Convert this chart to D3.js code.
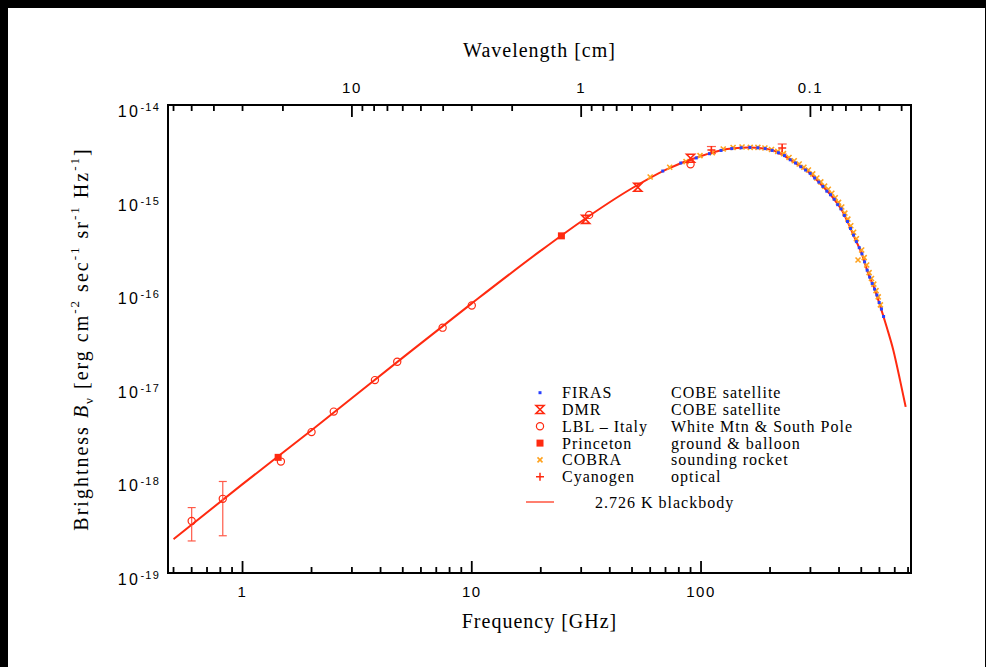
<!DOCTYPE html>
<html>
<head>
<meta charset="utf-8">
<script src="https://cdn.jsdelivr.net/npm/d3@7"></script>
<style>
  body { margin: 0; background: #000; }
  svg { display: block; }
  .serif { font-family: "Liberation Serif", "Times New Roman", serif; fill: #000; }
  .sans { font-family: "Liberation Sans", Arial, sans-serif; fill: #000; }
</style>
</head>
<body>
<svg id="chart" width="986" height="667"></svg>
<script>
// blackbody curve (GHz, erg cm^-2 s^-1 sr^-1 Hz^-1)
var curveFreq = [0.5, 1, 2, 5, 10, 20, 30, 50, 70, 100, 130, 160, 190, 220, 252, 299, 341, 378, 411, 439, 469, 502, 536, 574, 603, 645, 690, 738, 781];
var curveB = [2.3e-19, 8.9e-19, 3.35e-18, 2.0e-17, 7.6e-17, 2.78e-16, 5.7e-16, 1.29e-15, 2.03e-15, 2.85e-15, 3.38e-15, 3.52e-15, 3.42e-15, 3.07e-15, 2.48e-15, 1.86e-15, 1.34e-15, 1.007e-15, 7.55e-16, 5.43e-16, 3.76e-16, 2.60e-16, 1.59e-16, 1.054e-16, 7.28e-17, 4.27e-17, 2.40e-17, 1.15e-17, 5.96e-18];

var firasFreq = [68.1, 81.6, 95.3, 108.8, 122.3, 136.1, 149.6, 163.4, 176.9, 190.4, 204.2, 217.6, 231.1, 244.9, 258.4, 272.2, 285.7, 299.2, 313.0, 326.5, 340.0, 353.8, 367.2, 381.0, 394.5, 408.0, 421.8, 435.3, 448.8, 462.6, 476.1, 489.9, 503.3, 516.8, 530.6, 544.1, 557.9, 571.4, 584.9, 598.7, 612.2, 625.7];
var firasB = [1.97e-15, 2.40e-15, 2.72e-15, 3.02e-15, 3.27e-15, 3.42e-15, 3.49e-15, 3.52e-15, 3.49e-15, 3.42e-15, 3.27e-15, 3.09e-15, 2.88e-15, 2.60e-15, 2.40e-15, 2.19e-15, 2.02e-15, 1.86e-15, 1.66e-15, 1.50e-15, 1.35e-15, 1.20e-15, 1.10e-15, 9.84e-16, 8.61e-16, 7.76e-16, 6.61e-16, 5.69e-16, 4.79e-16, 4.07e-16, 3.47e-16, 2.99e-16, 2.57e-16, 2.11e-16, 1.72e-16, 1.45e-16, 1.24e-16, 1.08e-16, 9.33e-17, 7.76e-17, 6.61e-17, 5.50e-17];

var cobraFreq = [60, 73, 86, 99, 112, 125, 138, 151, 164, 177, 190, 203, 216, 229, 242, 255, 268, 281, 294, 307, 320, 333, 346, 359, 372, 385, 398, 411, 424, 437, 450, 463, 476, 484, 502, 515, 528, 541, 554, 567, 580, 593, 606];
var cobraB = [1.70e-15, 2.16e-15, 2.48e-15, 2.88e-15, 3.09e-15, 3.39e-15, 3.51e-15, 3.56e-15, 3.53e-15, 3.53e-15, 3.47e-15, 3.35e-15, 3.20e-15, 3.02e-15, 2.75e-15, 2.54e-15, 2.34e-15, 2.16e-15, 2.02e-15, 1.84e-15, 1.66e-15, 1.51e-15, 1.36e-15, 1.26e-15, 1.14e-15, 1.02e-15, 9.12e-16, 8.13e-16, 7.0e-16, 6.03e-16, 5.13e-16, 4.37e-16, 3.72e-16, 2.21e-16, 2.82e-16, 2.34e-16, 1.95e-16, 1.62e-16, 1.40e-16, 1.22e-16, 1.04e-16, 8.91e-17, 7.33e-17];

var dmrFreq = [31.4, 53, 90];
var dmrB = [6.0e-16, 1.32e-15, 2.7e-15];

var lblFreq = [0.6, 0.82, 1.47, 2.0, 2.5, 3.78, 4.73, 7.46, 10.0, 32.5, 90];
var lblB = [3.6e-19, 6.2e-19, 1.55e-18, 3.2e-18, 5.3e-18, 1.15e-17, 1.81e-17, 4.18e-17, 7.2e-17, 6.7e-16, 2.33e-15];
var lblLo = [2.2e-19, 2.5e-19, null, null, null, null, null, null, null, null, null];
var lblHi = [5.0e-19, 9.5e-19, null, null, null, null, null, null, null, null, null];

var princetonFreq = [1.43, 24.6];
var princetonB = [1.72e-18, 4.0e-16];

var cyanFreq = [111, 226];
var cyanB = [3.31e-15, 3.47e-15];
var cyanLo = [3.03e-15, 2.99e-15];
var cyanHi = [3.6e-15, 3.83e-15];

var freqMajor = [1, 10, 100];
var waveMajor = [10, 1, 0.1];
var waveLabels = ["10", "1", "0.1"];
var bMajor = [1e-14, 1e-15, 1e-16, 1e-17, 1e-18, 1e-19];
var bExp = ["-14", "-15", "-16", "-17", "-18", "-19"];

var legendNames = ["FIRAS", "DMR", "LBL \u2013 Italy", "Princeton", "COBRA", "Cyanogen"];
var legendNotes = ["COBE satellite", "COBE satellite", "White Mtn & South Pole", "ground & balloon", "sounding rocket", "optical"];
var legendKeys = ["firas", "dmr", "lbl", "princeton", "cobra", "cyan"];

var RED = "#ff2a10", BLUE = "#2840ff", ORANGE = "#ffa21e", ERR = "#ff5a48";

var svg = d3.select("#chart");
svg.append("rect").attr("x", 8).attr("y", 8).attr("width", 977).attr("height", 659).attr("fill", "#fff");

var L = 168, R = 911, T = 105, B = 573;
var x = d3.scaleLog().domain([0.473, 824]).range([L, R]);
var xw = d3.scaleLog().domain([30 / 0.473, 30 / 824]).range([L, R]);
var y = d3.scaleLog().domain([1e-19, 1e-14]).range([B, T]);

function minorList(lo, hi) {
  var out = [];
  for (var e = -3; e <= 3; e++) {
    for (var m = 1; m <= 9; m++) {
      var v = m * Math.pow(10, e);
      if (v >= lo && v <= hi) out.push({ v: v, major: m == 1 });
    }
  }
  return out;
}

var ticks = svg.append("g").attr("stroke", "#000").attr("stroke-width", 1.8);

// bottom frequency ticks
minorList(0.473, 824).forEach(function(t) {
  var px = x(t.v);
  ticks.append("line").attr("x1", px).attr("x2", px).attr("y1", B).attr("y2", B - (t.major ? 12 : 6));
});
// top wavelength ticks
minorList(30 / 824, 30 / 0.473).forEach(function(t) {
  var px = xw(t.v);
  ticks.append("line").attr("x1", px).attr("x2", px).attr("y1", T).attr("y2", T + (t.major ? 12 : 6));
});
// left / right brightness ticks
minorList(1e-19, 1e-14).forEach(function(t) {
  var py = y(t.v);
  var len = t.major ? 13 : 7;
  ticks.append("line").attr("x1", L).attr("x2", L + len).attr("y1", py).attr("y2", py);
  ticks.append("line").attr("x1", R).attr("x2", R - len).attr("y1", py).attr("y2", py);
});

svg.append("rect").attr("x", L).attr("y", T).attr("width", R - L).attr("height", B - T)
  .attr("fill", "none").attr("stroke", "#000").attr("stroke-width", 2);

// tick labels
svg.selectAll(".fl").data(freqMajor).enter().append("text")
  .attr("class", "sans").attr("x", function(d) { return x(d); }).attr("y", 597)
  .attr("text-anchor", "middle").attr("font-size", 15).attr("letter-spacing", 1.5)
  .text(function(d) { return d; });

svg.selectAll(".wl").data(waveMajor).enter().append("text")
  .attr("class", "sans").attr("x", function(d) { return xw(d); }).attr("y", 93)
  .attr("text-anchor", "middle").attr("font-size", 15).attr("letter-spacing", 1.5)
  .text(function(d, i) { return waveLabels[i]; });

bMajor.forEach(function(v, i) {
  var t = svg.append("text").attr("class", "sans").attr("x", 160).attr("y", y(v) + 12)
    .attr("text-anchor", "end").attr("font-size", 16);
  t.append("tspan").attr("letter-spacing", 2.5).text("10");
  t.append("tspan").attr("dy", -6).attr("font-size", 11).attr("letter-spacing", 1.2).text(bExp[i]);
});

// axis titles
svg.append("text").attr("class", "serif").attr("x", (L + R) / 2).attr("y", 628)
  .attr("text-anchor", "middle").attr("font-size", 20).attr("letter-spacing", 1)
  .text("Frequency [GHz]");
svg.append("text").attr("class", "serif").attr("x", (L + R) / 2).attr("y", 57)
  .attr("text-anchor", "middle").attr("font-size", 20).attr("letter-spacing", 1)
  .text("Wavelength [cm]");

var yt = svg.append("text").attr("class", "serif").attr("font-size", 20).attr("letter-spacing", 2)
  .attr("text-anchor", "middle").attr("transform", "translate(88," + ((T + B) / 2) + ") rotate(-90)");
yt.append("tspan").text("Brightness ");
yt.append("tspan").attr("font-style", "italic").text("B");
yt.append("tspan").attr("dy", 5).attr("font-size", 13).text("\u03bd");
yt.append("tspan").attr("dy", -5).text(" [erg cm");
yt.append("tspan").attr("dy", -9).attr("font-size", 13).text("-2");
yt.append("tspan").attr("dy", 9).text(" sec");
yt.append("tspan").attr("dy", -9).attr("font-size", 13).text("-1");
yt.append("tspan").attr("dy", 9).text(" sr");
yt.append("tspan").attr("dy", -9).attr("font-size", 13).text("-1");
yt.append("tspan").attr("dy", 9).text(" Hz");
yt.append("tspan").attr("dy", -9).attr("font-size", 13).text("-1");
yt.append("tspan").attr("dy", 9).text("]");

// blackbody curve
var curveData = curveFreq.map(function(f, i) { return [f, curveB[i]]; });
var line = d3.line().x(function(d) { return x(d[0]); }).y(function(d) { return y(d[1]); }).curve(d3.curveMonotoneX);
svg.append("path").attr("d", line(curveData)).attr("fill", "none").attr("stroke", RED).attr("stroke-width", 2);

// markers
var markers = {
  firas: function(g) { g.append("rect").attr("x", -1.5).attr("y", -1.5).attr("width", 3).attr("height", 3).attr("fill", BLUE); },
  cobra: function(g) { g.append("path").attr("d", "M-2.5,-2.5L2.5,2.5M-2.5,2.5L2.5,-2.5").attr("stroke", ORANGE).attr("stroke-width", 1.6); },
  dmr: function(g) { g.append("path").attr("d", "M-4,-4H4L-4,4H4Z").attr("fill", "none").attr("stroke", RED).attr("stroke-width", 1.6); },
  lbl: function(g) { g.append("circle").attr("r", 3.6).attr("fill", "none").attr("stroke", RED).attr("stroke-width", 1.2); },
  princeton: function(g) { g.append("rect").attr("x", -3.5).attr("y", -3.5).attr("width", 7).attr("height", 7).attr("fill", RED); },
  cyan: function(g) { g.append("path").attr("d", "M-4,0H4M0,-4V4").attr("stroke", RED).attr("stroke-width", 1.5); }
};

function errBars(fr, lo, hi, w) {
  fr.forEach(function(f, i) {
    if (lo[i] == null) return;
    var px = x(f), y1 = y(lo[i]), y2 = y(hi[i]);
    var g = svg.append("g").attr("stroke", ERR).attr("stroke-width", 1.2);
    g.append("line").attr("x1", px).attr("x2", px).attr("y1", y1).attr("y2", y2);
    g.append("line").attr("x1", px - w).attr("x2", px + w).attr("y1", y1).attr("y2", y1);
    g.append("line").attr("x1", px - w).attr("x2", px + w).attr("y1", y2).attr("y2", y2);
  });
}
errBars(lblFreq, lblLo, lblHi, 4);
errBars(cyanFreq, cyanLo, cyanHi, 4.5);

function plotSet(fr, vals, key) {
  fr.forEach(function(f, i) {
    var g = svg.append("g").attr("transform", "translate(" + x(f) + "," + y(vals[i]) + ")");
    markers[key](g);
  });
}
plotSet(cobraFreq, cobraB, "cobra");
plotSet(firasFreq, firasB, "firas");
plotSet(lblFreq, lblB, "lbl");
plotSet(princetonFreq, princetonB, "princeton");
plotSet(dmrFreq, dmrB, "dmr");
plotSet(cyanFreq, cyanB, "cyan");

// legend
legendKeys.forEach(function(k, i) {
  var cy = 392.7 + i * 16.8;
  markers[k](svg.append("g").attr("transform", "translate(540," + cy + ")"));
  svg.append("text").attr("class", "serif").attr("x", 562).attr("y", cy + 5.5)
    .attr("font-size", 16).attr("letter-spacing", 1).text(legendNames[i]);
  svg.append("text").attr("class", "serif").attr("x", 671).attr("y", cy + 5.5)
    .attr("font-size", 16).attr("letter-spacing", 1).text(legendNotes[i]);
});
svg.append("line").attr("x1", 526).attr("x2", 554).attr("y1", 502).attr("y2", 502).attr("stroke", RED).attr("stroke-width", 1.2);
svg.append("text").attr("class", "serif").attr("x", 595).attr("y", 507.5)
  .attr("font-size", 16).attr("letter-spacing", 1).text("2.726 K blackbody");
</script>
</body>
</html>
